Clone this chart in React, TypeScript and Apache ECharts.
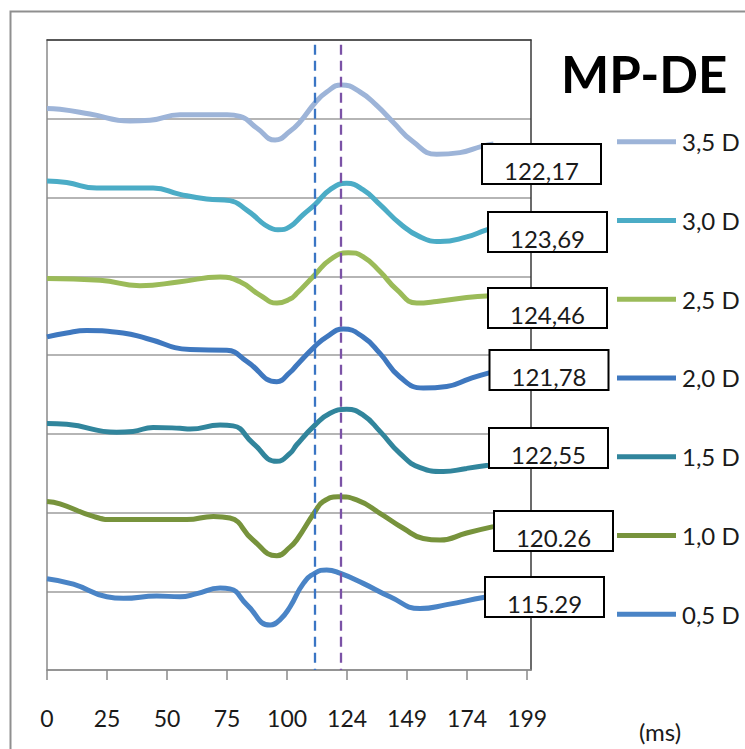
import React, { useEffect, useRef } from "react";
import * as echarts from "echarts";

// ---- data ----
const seriesNames = ["0,5 D", "1,0 D", "1,5 D", "2,0 D", "2,5 D", "3,0 D", "3,5 D"];
const legendOrder = ["3,5 D", "3,0 D", "2,5 D", "2,0 D", "1,5 D", "1,0 D", "0,5 D"];
const xTickValues = [0, 25, 50, 75, 100, 125, 150, 175, 200];
const xTickLabels = ["0", "25", "50", "75", "100", "124", "149", "174", "199"];

const trace05: number[][] = [
  [0, 1.16], [11, 1.09], [24.9, 0.93], [31.8, 0.91], [45.7, 0.94], [55.4, 0.93], [62.4, 0.97],
  [72.1, 1.04], [76.2, 1.03], [83.2, 0.83], [92.9, 0.57], [97.1, 0.64], [101.2, 0.8],
  [106.8, 1.1], [111.6, 1.23], [116.5, 1.27], [122, 1.23], [131.7, 1.1], [142.9, 0.93],
  [155.4, 0.78], [166.5, 0.83], [181.7, 0.92], [186, 0.94],
];
const trace10: number[][] = [
  [0, 2.14], [5.4, 2.11], [19.3, 1.95], [27.6, 1.91], [45.7, 1.91], [58.2, 1.91], [69.3, 1.95],
  [76.2, 1.93], [85.8, 1.65], [95.7, 1.45], [101.2, 1.56], [104, 1.65], [111.6, 2.01],
  [115.1, 2.14], [121.3, 2.2], [129, 2.16], [138.7, 1.99], [148.4, 1.8], [156.7, 1.67],
  [163.7, 1.65], [174.8, 1.74], [185.9, 1.82],
];
const trace15: number[][] = [
  [0, 3.13], [8.2, 3.12], [29, 3.02], [35.8, 3.03], [44.2, 3.08], [55.4, 3.07], [59.6, 3.06],
  [72.1, 3.11], [77.5, 3.1], [85.8, 2.88], [95.7, 2.65], [101.2, 2.75], [104, 2.86],
  [111.6, 3.11], [117.9, 3.26], [124.8, 3.31], [131.6, 3.24], [138.7, 3.03], [147, 2.75],
  [155.4, 2.57], [165.1, 2.52], [174.8, 2.56], [183.8, 2.6], [186, 2.61],
];
const trace20: number[][] = [
  [0, 4.23], [8.2, 4.28], [16.5, 4.31], [31.7, 4.28], [41.5, 4.21], [59.6, 4.07], [74.9, 4.06],
  [83.2, 3.92], [95.7, 3.66], [101.2, 3.78], [104, 3.87], [111.6, 4.11], [116.5, 4.23],
  [123.4, 4.33], [131.6, 4.23], [138.7, 4.02], [147, 3.72], [156.7, 3.58], [166.5, 3.6],
  [176.2, 3.7], [183.8, 3.77], [186, 3.78],
];
const trace25: number[][] = [
  [0, 4.97], [22.1, 4.95], [38.7, 4.88], [55.4, 4.93], [72.1, 4.99], [80.4, 4.93], [88.7, 4.76],
  [95.8, 4.66], [101.2, 4.71], [104, 4.78], [111.6, 5.02], [117.9, 5.21], [125.5, 5.3],
  [131.6, 5.25], [138.7, 5.06], [145.7, 4.83], [154, 4.66], [162.3, 4.68], [174.8, 4.73],
  [183.1, 4.75], [186, 4.76],
];
const trace30: number[][] = [
  [0, 6.21], [8.2, 6.19], [20.7, 6.12], [44.2, 6.12], [55.4, 6.04], [66.5, 5.98], [76.2, 5.96],
  [83.2, 5.84], [94.1, 5.6], [96.2, 5.59], [101.2, 5.63], [106.6, 5.78], [111.6, 5.91],
  [117.9, 6.1], [124.8, 6.18], [131.6, 6.1], [138.7, 5.91], [147, 5.67], [155.4, 5.5],
  [163.7, 5.44], [174.8, 5.5], [183.1, 5.59], [186, 5.61],
];
const trace35: number[][] = [
  [0, 7.13], [5.4, 7.12], [17.9, 7.06], [34.6, 6.97], [42.9, 6.98], [55.4, 7.05], [75, 7.05],
  [80.4, 7.03], [87.5, 6.88], [95, 6.73], [101.2, 6.84], [105.4, 6.96], [111.6, 7.2],
  [116.5, 7.34], [122.7, 7.43], [130.4, 7.34], [137.3, 7.17], [144.1, 6.96], [152.4, 6.71],
  [162.3, 6.55], [172, 6.57], [181.1, 6.65], [186, 6.68],
];
const traces = [trace05, trace10, trace15, trace20, trace25, trace30, trace35];

// peak latency annotations (ms values as printed)
const peakLabels = ["115.29", "120.26", "122,55", "121,78", "124,46", "123,69", "122,17"];
// label anchor positions (axis units)
const peakLabelX = [207.2, 211.0, 208.9, 209.1, 208.5, 208.5, 206.0];
const peakLabelY = [0.933, 1.765, 2.813, 3.81, 4.603, 5.556, 6.425];

// dashed reference lines (x positions)
const refLineX = [111.6, 122.3];

// ---- styles ----
const colors = ["#4A84C6", "#77933C", "#31859C", "#3F78BF", "#9BBB59", "#4BACC6", "#9DB4D8"];
const refColors = ["#3A75C4", "#7B52A6"];
const FONT = "Lato";
const BOX_W = 119;
const BOX_H = 40;

export default function App() {
  const ref = useRef<HTMLDivElement>(null);
  useEffect(() => {
    if (!ref.current) return;
    const chart = echarts.init(ref.current, undefined, { renderer: "svg" });
    const lineSeries: any[] = seriesNames.map((name, i) => ({
      name,
      type: "line",
      data: traces[i],
      showSymbol: false,
      symbol: "none",
      smooth: 0.5,
      lineStyle: { color: colors[i], width: 5 },
      itemStyle: { color: colors[i] },
      z: 2,
      silent: true,
    }));
    lineSeries[0].markLine = {
      silent: true,
      symbol: ["none", "none"],
      label: { show: false },
      z: 6,
      data: refLineX.map((x, i) => [
        { coord: [x, 7.94], lineStyle: { color: refColors[i], width: 2.3, type: [10, 6] } },
        { coord: [x, 0] },
      ]),
    };
    const option: any = {
      animation: false,
      title: {
        text: "MP-DE",
        left: 561,
        top: 48,
        padding: 0,
        textStyle: { fontFamily: FONT, fontSize: 51, fontWeight: "bold", color: "#000", lineHeight: 51 },
      },
      legend: {
        orient: "vertical",
        left: 617,
        top: 126.7,
        padding: 0,
        itemWidth: 59,
        itemHeight: 5,
        itemGap: 48.75,
        selectedMode: false,
        data: legendOrder.map((n) => ({ name: n, icon: "rect" })),
        textStyle: { fontFamily: FONT, fontSize: 24, color: "#1a1a1a", lineHeight: 30, padding: [0, 0, 0, 1] },
      },
      grid: { left: 47, right: 214, top: 40, bottom: 79, containLabel: false },
      xAxis: [
        {
          type: "value",
          min: 0,
          max: 201.6,
          position: "bottom",
          axisLine: { show: true, onZero: false, lineStyle: { color: "#8a8a8a", width: 1.5 } },
          axisTick: { show: true, length: 10, customValues: xTickValues, lineStyle: { color: "#8a8a8a", width: 1.5 } },
          axisLabel: {
            show: true,
            customValues: xTickValues,
            margin: 36,
            fontFamily: FONT,
            fontSize: 23,
            lineHeight: 23,
            color: "#1a1a1a",
            formatter: (v: number) => {
              const k = xTickValues.indexOf(v);
              return k >= 0 ? xTickLabels[k] : "";
            },
          },
          splitLine: { show: false },
        },
        {
          type: "value",
          min: 0,
          max: 201.6,
          position: "top",
          axisLine: { show: true, onZero: false, lineStyle: { color: "#3a3a3a", width: 1.5 } },
          axisTick: { show: false },
          axisLabel: { show: false },
          splitLine: { show: false },
        },
      ],
      yAxis: [
        {
          type: "value",
          min: 0,
          max: 8,
          interval: 1,
          position: "left",
          axisLine: { show: true, onZero: false, lineStyle: { color: "#8a8a8a", width: 1.5 } },
          axisTick: { show: false },
          axisLabel: { show: false },
          splitLine: { show: true, lineStyle: { color: "#9c9c9c", width: 1.5 } },
        },
        {
          type: "value",
          min: 0,
          max: 8,
          interval: 1,
          position: "right",
          axisLine: { show: true, onZero: false, lineStyle: { color: "#3a3a3a", width: 1.5 } },
          axisTick: { show: false },
          axisLabel: { show: false },
          splitLine: { show: false },
        },
      ],
      series: [
        ...lineSeries,
        {
          name: "refs",
          type: "custom",
          data: peakLabelX.map((x, i) => [x, peakLabelY[i]]),
          clip: false,
          silent: true,
          z: 10,
          renderItem: (params: any, api: any) => {
            const pt = api.coord([api.value(0), api.value(1)]);
            const cx = Math.round(pt[0] * 2) / 2;
            const cy = Math.round(pt[1]);
            return {
              type: "group",
              children: [
                {
                  type: "rect",
                  shape: { x: cx - BOX_W / 2, y: cy - BOX_H / 2, width: BOX_W, height: BOX_H },
                  style: { fill: "#ffffff", stroke: "#000000", lineWidth: 2 },
                },
                {
                  type: "text",
                  x: cx,
                  y: cy + 6,
                  style: {
                    text: peakLabels[params.dataIndex],
                    fontFamily: FONT,
                    fontSize: 24,
                    fill: "#1a1a1a",
                    textAlign: "center",
                    textVerticalAlign: "middle",
                  },
                },
              ],
            };
          },
        },
      ],
      graphic: [
        {
          type: "rect",
          left: 8,
          top: 9,
          shape: { width: 800, height: 800 },
          style: { fill: "none", stroke: "#8f8f8f", lineWidth: 2 },
          silent: true,
          z: 0,
        },
        {
          type: "text",
          x: 660,
          y: 731,
          style: {
            text: "(ms)",
            fontFamily: FONT,
            fontSize: 24,
            fill: "#1a1a1a",
            textAlign: "center",
            textVerticalAlign: "middle",
          },
          silent: true,
        },
      ],
    };
    chart.setOption(option);
    return () => chart.dispose();
  }, []);
  return (
    <div
      ref={ref}
      style={{ position: "fixed", left: 0, top: 0, width: 745, height: 749, background: "#fff" }}
    />
  );
}
